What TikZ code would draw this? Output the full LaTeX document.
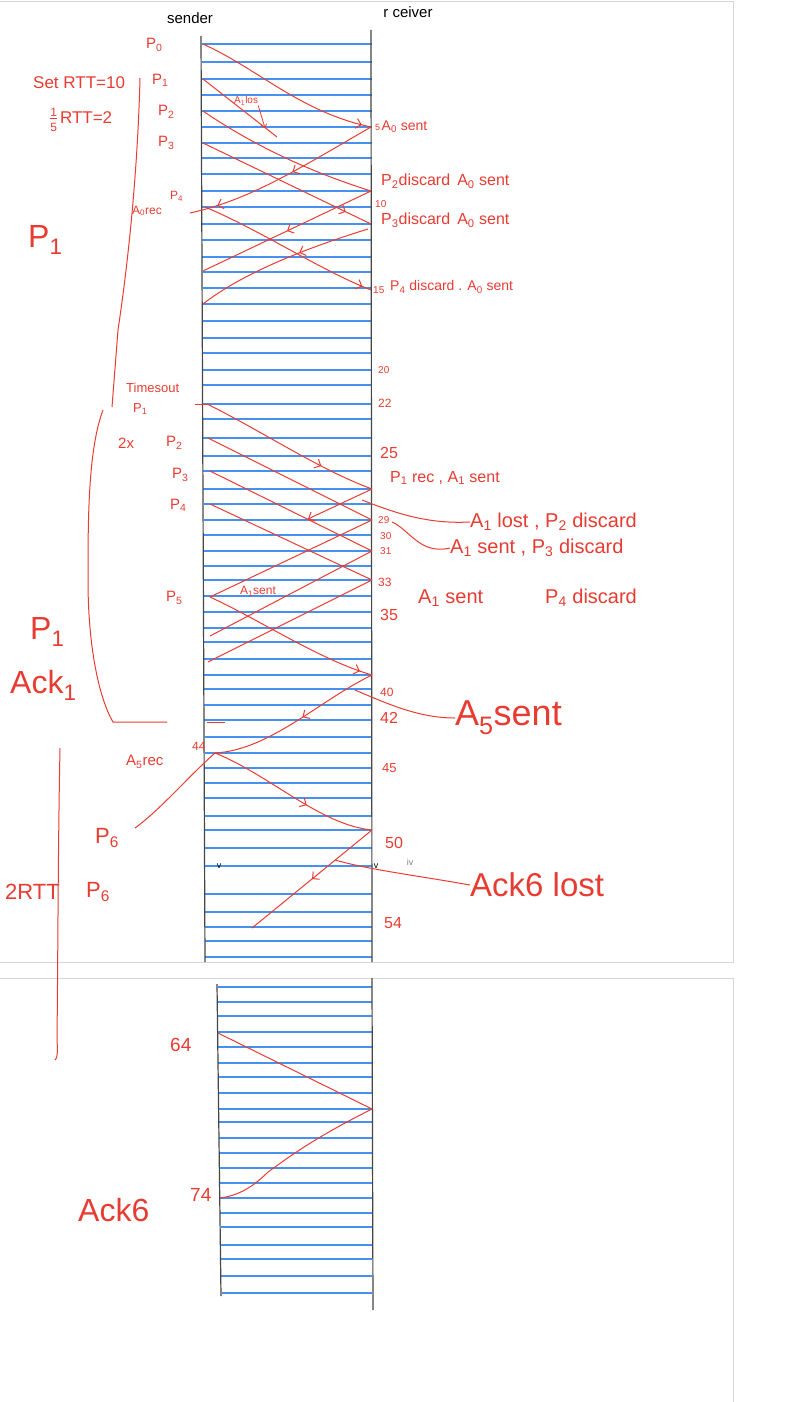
\documentclass[tikz,border=0pt]{standalone}
\usepackage{fontspec}
\setmainfont{Liberation Sans}
\usetikzlibrary{arrows.meta,decorations.markings}
\definecolor{ink}{RGB}{232,60,50}
\definecolor{ruleblue}{RGB}{70,145,240}
\definecolor{framegray}{RGB}{215,215,215}
\definecolor{pen}{RGB}{70,70,70}
\newcommand{\sbx}[1]{\textsubscript{#1}}
\begin{document}
\begin{tikzpicture}[x=1pt,y=-1pt,
  msg/.style={draw=ink, line width=1pt},
  arr/.style={postaction={decorate,decoration={markings,mark=at position #1 with {\arrow[ink,line width=1pt]{Straight Barb[length=5pt,width=10pt]}}}}},
  lbl/.style={text=ink, inner sep=0pt, anchor=west, font=\fontsize{15}{16}\selectfont},
  rlbl/.style={text=ink, inner sep=0pt, anchor=west, font=\fontsize{16}{17}\selectfont},
  tiny/.style={text=ink, inner sep=0pt, anchor=west, font=\fontsize{10}{11}\selectfont},
  big/.style={text=ink, inner sep=0pt, anchor=west, font=\fontsize{32}{34}\selectfont},
  mid/.style={text=ink, inner sep=0pt, anchor=west, font=\fontsize{22}{24}\selectfont},
  head/.style={text=black, inner sep=0pt, font=\fontsize{15}{16}\selectfont},
  brace/.style={draw=ink, line width=1pt},
  lifeline/.style={draw=pen, line width=1.2pt},
  timeline/.style={draw=ruleblue, line width=1.3pt},
  panel/.style={draw=framegray, line width=0.8pt}
]
\useasboundingbox (0,0) rectangle (806,1402);
\fill[white] (0,0) rectangle (806,1402);

% panels
\draw[panel] (0,1) -- (733,1) -- (733,962) -- (0,962);
\draw[panel] (0,978) -- (733,978) -- (733,1402);

% time grid, upper panel
\foreach \y in {44,62,79,95,111,127,143,158,174,191,207,224,240,257,272,288,304,321,338,353,370,385,404,419,438,456,471,489,504,520,535,551,566,580,596,612,628,642,659,675,689,705,720,737,753,768,783,798,816,830,848,866,894,912,927,941,957}
  {\pgfmathsetmacro{\sx}{201.5+4*(\y-36)/926}
   \draw[timeline] (\sx,\y) -- (372,\y);}
% time grid, lower panel
\foreach \y in {987,1002,1016,1032,1047,1063,1077,1093,1109,1122,1138,1153,1168,1183,1198,1213,1227,1245,1259,1276,1293}
  {\pgfmathsetmacro{\sx}{217.5+4*(\y-987)/306}
   \draw[timeline] (\sx,\y) -- (372,\y);}

% lifelines
\draw[lifeline] (201,36) -- (205,962);
\draw[lifeline] (371,30) -- (372,962);
\draw[lifeline] (217,984) -- (221,1296);
\draw[lifeline] (372,978) -- (373,1310);

\node[head] (snd) at (190,18) {sender};
\node[head] (rcv) at (408,12) {r ceiver};

% ---------- event points ----------
\coordinate (s0) at (203,44);
\coordinate (r5) at (371,127);
\coordinate (s1) at (203,79);
\coordinate (l1) at (277,137);
\coordinate (s2) at (203,111);
\coordinate (r8) at (371,191);
\coordinate (s3) at (203,143);
\coordinate (r10) at (371,224);
\coordinate (a0r) at (190,213);
\coordinate (s4) at (205,207);
\coordinate (r15) at (371,290);
\coordinate (a0b) at (203,271);
\coordinate (r11) at (368,229);
\coordinate (a0c) at (203,304);

\coordinate (t1) at (207,404);
\coordinate (r27) at (372,489);
\coordinate (l27) at (308,519);
\coordinate (s2b) at (208,438);
\coordinate (r29) at (372,520);
\coordinate (s3b) at (210,471);
\coordinate (r31) at (372,551);
\coordinate (s4b) at (210,504);
\coordinate (r33) at (372,580);
\coordinate (s5) at (210,597);
\coordinate (s5b) at (210,636);
\coordinate (s5c) at (208,662);
\coordinate (r40) at (372,675);
\coordinate (a5) at (215,753);
\coordinate (r50) at (372,830);
\coordinate (l50) at (252,928);
\coordinate (s64) at (218,1033);
\coordinate (r69) at (372,1109);
\coordinate (a6) at (220,1198);

% ---------- first round ----------
\draw[msg,arr=0.95] (s0) .. controls (260,70) and (300,112) .. (r5);
\draw[msg] (s1) -- (l1);
\draw[msg] (s2) .. controls (260,150) and (320,175) .. (r8);
\draw[msg,arr=0.85] (s3) -- (r10);
\draw[msg,arr=0.45,arr=0.86] (r5) .. controls (300,168) and (250,200) .. (a0r);
\draw[msg,arr=0.95] (s4) .. controls (260,230) and (320,270) .. (r15);
\draw[msg,arr=0.5] (r8) -- (a0b);
\draw[msg,arr=0.4] (r11) .. controls (300,250) and (240,275) .. (a0c);

% lost P1 annotation
\node[tiny] (p1lost) at (234,101) {A\sbx{1}los};
\draw[msg,line width=0.8pt,->,>={Straight Barb[length=3pt,width=6pt]}] (p1lost.south east) -- (265,128);

% ---------- timeout and resend ----------
\draw[msg] (195,404) -- (t1);
\draw[msg,arr=0.7] (t1) .. controls (260,430) and (320,470) .. (r27);
\draw[msg,arr=1] (r27) -- (l27);
\draw[msg] (s2b) -- (r29);
\draw[msg] (s3b) -- (r31);
\draw[msg] (s4b) -- (r33);
\draw[msg] (r29) -- (s5);
\draw[msg] (r31) -- (s5b);
\draw[msg] (r33) -- (s5c);
\draw[msg,arr=0.93] (s5) .. controls (260,620) and (320,660) .. (r40);
\draw[msg,arr=0.46] (r40) .. controls (320,700) and (270,750) .. (a5);
\draw[msg] (207,722) -- (225,722);

% ---------- P6 ----------
\draw[msg,arr=0.6] (a5) .. controls (270,775) and (320,825) .. (r50);
\draw[msg,arr=0.5] (r50) -- (l50);

% ---------- lower panel ----------
\draw[msg] (s64) -- (r69);
\draw[msg] (r69) .. controls (310,1140) and (285,1160) .. (268,1172) .. controls (250,1190) and (235,1196) .. (a6);

% ---------- braces ----------
\draw[brace] (140,78) .. controls (138,160) and (130,250) .. (118,330) -- (112,407);
\draw[brace] (103,410) .. controls (88,450) and (88,520) .. (88,580)
   .. controls (88,650) and (100,700) .. (113,722) -- (167,722);
\draw[brace] (60,748) .. controls (58,850) and (58,950) .. (57,1040)
   .. controls (58,1055) and (57,1058) .. (55,1060);

% ---------- left labels ----------
\node[lbl] (p0) at (146,45) {P\sbx{0}};
\node[lbl] (p1) at (152,80) {P\sbx{1}};
\node[lbl] (p2) at (158,112) {P\sbx{2}};
\node[lbl] (p3) at (158,143) {P\sbx{3}};
\node[tiny,font=\fontsize{12}{13}\selectfont] (p4) at (170,196) {P\sbx{4}};
\node[tiny,font=\fontsize{12}{13}\selectfont] (a0rec) at (132,211) {A\sbx{0}rec};
\node[lbl,font=\fontsize{17}{18}\selectfont] (rtt) at (33,83) {Set RTT=10};
\node[lbl,font=\fontsize{17}{18}\selectfont] (half) at (50,120) {\raisebox{-0.9ex}{\fontsize{12}{12}\selectfont\shortstack{1\\[-1pt]\rule{7pt}{0.9pt}\\[1pt]5}}\,RTT=2};
\node[big] (bigp1) at (28,240) {P\sbx{1}};

\node[tiny,font=\fontsize{13}{14}\selectfont] (tout) at (126,388) {Timesout};
\node[tiny,font=\fontsize{13}{14}\selectfont] (tp1) at (133,409) {P\sbx{1}};
\node[lbl] (two) at (118,443) {2x};
\node[lbl] (q2) at (166,443) {P\sbx{2}};
\node[lbl] (q3) at (172,475) {P\sbx{3}};
\node[lbl] (q4) at (170,505) {P\sbx{4}};
\node[lbl] (q5) at (166,598) {P\sbx{5}};
\node[tiny,font=\fontsize{12}{13}\selectfont] (a1sent) at (240,591) {A\sbx{1}sent};
\node[big] (bigp1b) at (30,632) {P\sbx{1}};
\node[big] (ack1) at (10,685) {Ack\sbx{1}};

\node[lbl] (a5rec) at (126,762) {A\sbx{5}rec};
\node[tiny,font=\fontsize{12}{13}\selectfont] (n44) at (192,746) {44};
\draw[msg] (a5) .. controls (190,775) and (160,810) .. (135,828);
\node[mid] (p6) at (95,838) {P\sbx{6}};
\node[mid] (rtt2) at (5,892) {2RTT};
\node[mid] (p6b) at (86,892) {P\sbx{6}};

\node[lbl,font=\fontsize{19}{20}\selectfont] (n64) at (170,1045) {64};
\node[big] (ack6) at (78,1210) {Ack6};
\node[lbl,font=\fontsize{19}{20}\selectfont] (n74) at (190,1195) {74};

% ---------- right labels ----------
\node[rlbl,font=\fontsize{14}{15}\selectfont] (rl5) at (375,127) {\fontsize{9}{10}\selectfont 5\,\fontsize{14}{15}\selectfont A\sbx{0} sent};
\node[rlbl] (rl8) at (381,181) {P\sbx{2}discard\, A\sbx{0} sent};
\node[tiny] (n10) at (375,204) {10};
\node[rlbl] (rl10) at (381,220) {P\sbx{3}discard\, A\sbx{0} sent};
\node[tiny] (n15) at (373,290) {15};
\node[rlbl,font=\fontsize{14}{15}\selectfont] (rl15) at (390,287) {P\sbx{4} discard . A\sbx{0} sent};

\node[tiny] (n20) at (378,370) {20};
\node[tiny,font=\fontsize{12}{13}\selectfont] (n22) at (378,403) {22};
\node[rlbl] (n25) at (380,453) {25};
\node[rlbl] (rl27) at (390,478) {P\sbx{1} rec , A\sbx{1} sent};
\node[tiny] (n29) at (378,520) {29};
\node[tiny] (n30) at (380,536) {30};
\node[tiny] (n31) at (380,551) {31};
\node[tiny,font=\fontsize{12}{13}\selectfont] (n33) at (378,582) {33};
\node[rlbl] (n35) at (380,615) {35};
\node[tiny,font=\fontsize{12}{13}\selectfont] (n40) at (380,692) {40};
\node[rlbl] (n42) at (380,718) {42};
\node[tiny,font=\fontsize{13}{14}\selectfont] (n45) at (382,768) {45};
\node[rlbl] (n50) at (385,843) {50};
\node[rlbl] (n54) at (384,923) {54};

\node[rlbl,font=\fontsize{20}{22}\selectfont] (lost1) at (470,522) {A\sbx{1} lost , P\sbx{2} discard};
\node[rlbl,font=\fontsize{20}{22}\selectfont] (sent31) at (450,548) {A\sbx{1} sent , P\sbx{3} discard};
\node[rlbl,font=\fontsize{20}{22}\selectfont] (sent33) at (418,598) {A\sbx{1} sent};
\node[rlbl,font=\fontsize{20}{22}\selectfont] (disc4) at (545,598) {P\sbx{4} discard};
\node[big,font=\fontsize{36}{38}\selectfont] (a5sent) at (455,718) {A\sbx{5}sent};
\node[big,font=\fontsize{33}{35}\selectfont] (ack6lost) at (470,885) {Ack6 lost};

\draw[msg] (362,500) .. controls (400,515) and (430,524) .. (lost1.west);
\draw[msg] (392,522) .. controls (410,530) and (420,555) .. (sent31.west);
\draw[msg] (355,690) .. controls (390,705) and (420,718) .. (a5sent.west);
\draw[msg] (335,860) .. controls (370,870) and (420,876) .. (ack6lost.west);

% small pencil marks
\node[head,font=\fontsize{9}{10}\selectfont] (v1) at (219,866) {v};
\node[head,font=\fontsize{9}{10}\selectfont] (v2) at (376,866) {v};
\node[head,text=gray,font=\fontsize{9}{10}\selectfont] (iv) at (410,862) {iv};
\end{tikzpicture}
\end{document}
